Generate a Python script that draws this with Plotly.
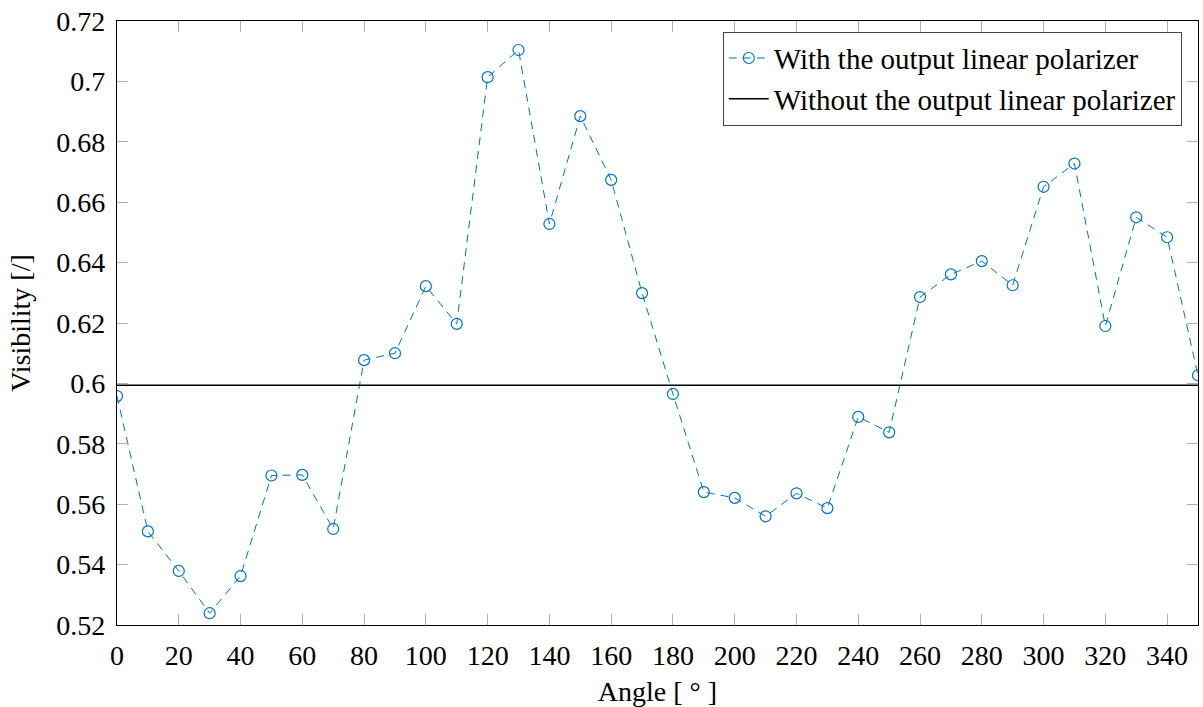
import plotly.graph_objects as go

angles = [0, 10, 20, 30, 40, 50, 60, 70, 80, 90, 100, 110, 120, 130, 140, 150, 160, 170,
          180, 190, 200, 210, 220, 230, 240, 250, 260, 270, 280, 290, 300, 310, 320, 330, 340, 350]
vis_with = [0.5958, 0.5510, 0.5379, 0.5239, 0.5362, 0.5695, 0.5697, 0.5518, 0.6077, 0.6100,
            0.6322, 0.6197, 0.7014, 0.7104, 0.6528, 0.6885, 0.6674, 0.6299,
            0.5965, 0.5640, 0.5621, 0.5560, 0.5636, 0.5587, 0.5889, 0.5838,
            0.6286, 0.6361, 0.6405, 0.6325, 0.6651, 0.6728, 0.6190, 0.6550, 0.6484, 0.6027]
ref_x = [0, 350]
ref_without = [0.5994, 0.5994]

x_ticks = list(range(0, 341, 20))
y_ticks = [0.52, 0.54, 0.56, 0.58, 0.6, 0.62, 0.64, 0.66, 0.68, 0.7, 0.72]
y_tick_text = ["0.52", "0.54", "0.56", "0.58", "0.6", "0.62", "0.64", "0.66", "0.68", "0.7", "0.72"]

FONT = "Liberation Serif"
BLUE = "rgb(0,114,189)"
FS = 28

fig = go.Figure()
fig.add_trace(go.Scatter(
    x=angles, y=vis_with, mode="lines+markers",
    name="With the output linear polarizer",
    line=dict(color=BLUE, width=1, dash="8px,6px"),
    marker=dict(symbol="circle-open", size=11, color=BLUE, line=dict(width=1.2, color=BLUE)),
))
fig.add_trace(go.Scatter(
    x=ref_x, y=ref_without, mode="lines",
    name="Without the output linear polarizer",
    line=dict(color="black", width=1.4),
))

axis_common = dict(
    showgrid=False, zeroline=False, showline=True, linecolor="black", linewidth=1.2,
    mirror="allticks", ticks="inside", ticklen=11, tickcolor="#b0b0b0", tickwidth=1.3,
    tickfont=dict(family=FONT, size=FS, color="black"),
    ticklabelstandoff=5, ticklabeloverflow="allow", automargin=False,
)

fig.update_layout(
    width=1203, height=707,
    margin=dict(l=117, r=5, t=21, b=82),
    paper_bgcolor="white", plot_bgcolor="white",
    font=dict(family=FONT, color="black"),
    xaxis=dict(range=[0, 350], tickvals=x_ticks,
               title=dict(text="Angle [ ° ]", font=dict(family=FONT, size=FS), standoff=12),
               **axis_common),
    yaxis=dict(range=[0.52, 0.72], tickvals=y_ticks, ticktext=y_tick_text,
               title=dict(text="Visibility [/]", font=dict(family=FONT, size=FS), standoff=17),
               **axis_common),
    legend=dict(x=0.985, y=0.9824, xanchor="right", yanchor="top",
                bgcolor="white", bordercolor="#444", borderwidth=1,
                font=dict(family=FONT, size=29, color="black"),
                itemwidth=40, tracegroupgap=0),
    showlegend=True,
)

fig.write_html("out.html",
               config={"displayModeBar": False},
               post_script="document.body.style.margin='0';document.body.style.overflow='hidden';")
